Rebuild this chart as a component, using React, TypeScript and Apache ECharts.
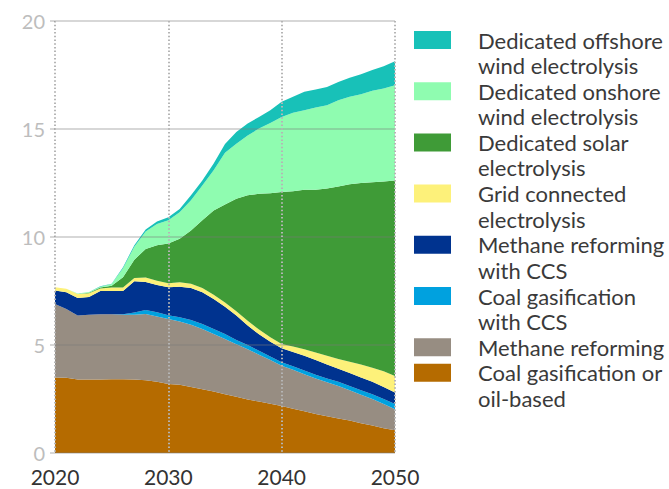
import React, { useEffect, useRef } from "react";
import * as echarts from "echarts";

const years = ["2020", "2021", "2022", "2023", "2024", "2025", "2026", "2027", "2028", "2029", "2030", "2031", "2032", "2033", "2034", "2035", "2036", "2037", "2038", "2039", "2040", "2041", "2042", "2043", "2044", "2045", "2046", "2047", "2048", "2049", "2050"];

const coalOil = [3.5, 3.48, 3.4, 3.4, 3.4, 3.42, 3.42, 3.4, 3.37, 3.3, 3.2, 3.16, 3.06, 2.95, 2.85, 2.72, 2.6, 2.48, 2.38, 2.28, 2.18, 2.05, 1.93, 1.8, 1.7, 1.6, 1.5, 1.38, 1.27, 1.15, 1.05];
const methane = [3.4, 3.19, 2.96, 3.0, 3.02, 3.0, 2.98, 3.0, 3.06, 3.02, 3.0, 2.93, 2.88, 2.79, 2.66, 2.56, 2.44, 2.32, 2.17, 2.02, 1.86, 1.8, 1.72, 1.65, 1.57, 1.5, 1.4, 1.32, 1.23, 1.12, 0.98];
const coalCcs = [0, 0, 0, 0, 0, 0, 0.02, 0.1, 0.19, 0.2, 0.18, 0.19, 0.22, 0.23, 0.23, 0.23, 0.19, 0.2, 0.18, 0.17, 0.16, 0.17, 0.17, 0.17, 0.18, 0.2, 0.2, 0.2, 0.22, 0.23, 0.24];
const methaneCcs = [0.62, 0.77, 0.82, 0.82, 1.08, 1.08, 1.08, 1.45, 1.3, 1.26, 1.29, 1.42, 1.48, 1.47, 1.39, 1.26, 1.13, 0.9, 0.77, 0.68, 0.65, 0.66, 0.68, 0.68, 0.65, 0.6, 0.6, 0.6, 0.58, 0.55, 0.53];
const gridConnected = [0.15, 0.16, 0.18, 0.18, 0.12, 0.16, 0.16, 0.15, 0.2, 0.2, 0.19, 0.2, 0.19, 0.2, 0.2, 0.2, 0.2, 0.22, 0.22, 0.21, 0.2, 0.25, 0.3, 0.35, 0.4, 0.45, 0.52, 0.6, 0.65, 0.73, 0.77];
const solar = [0, 0, 0, 0.02, 0.04, 0.08, 0.48, 0.85, 1.33, 1.64, 1.84, 2.02, 2.47, 3.13, 3.9, 4.53, 5.21, 5.81, 6.28, 6.67, 7.03, 7.19, 7.39, 7.54, 7.74, 7.99, 8.22, 8.4, 8.59, 8.79, 9.05];
const onshore = [0, 0, 0.02, 0.03, 0.04, 0.08, 0.41, 0.6, 0.8, 0.98, 1.07, 1.23, 1.4, 1.62, 1.86, 2.4, 2.55, 2.77, 3.02, 3.25, 3.48, 3.63, 3.68, 3.81, 3.86, 3.99, 4.05, 4.11, 4.23, 4.3, 4.41];
const offshore = [0, 0, 0, 0, 0.02, 0.02, 0.05, 0.07, 0.1, 0.12, 0.15, 0.15, 0.23, 0.23, 0.31, 0.4, 0.54, 0.55, 0.54, 0.59, 0.7, 0.74, 0.85, 0.83, 0.85, 0.85, 0.88, 0.93, 0.96, 1.04, 1.11];

// bottom to top
const seriesNames = [
  "Coal gasification or oil-based",
  "Methane reforming",
  "Coal gasification with CCS",
  "Methane reforming with CCS",
  "Grid connected electrolysis",
  "Dedicated solar electrolysis",
  "Dedicated onshore wind electrolysis",
  "Dedicated offshore wind electrolysis",
];
const seriesValues = [coalOil, methane, coalCcs, methaneCcs, gridConnected, solar, onshore, offshore];
const seriesColors = ["#b56b00", "#978d82", "#00a1df", "#00338f", "#fdf17a", "#3f9b37", "#8ffcb0", "#18c1b8"];

// legend (top to bottom) with line breaks as in the reference
const legendLabels = [
  "Dedicated offshore\nwind electrolysis",
  "Dedicated onshore\nwind electrolysis",
  "Dedicated solar\nelectrolysis",
  "Grid connected\nelectrolysis",
  "Methane reforming\nwith CCS",
  "Coal gasification\nwith CCS",
  "Methane reforming",
  "Coal gasification or\noil-based",
];

const FONT = "Lato, 'Noto Sans', sans-serif";

export default function App() {
  const ref = useRef<HTMLDivElement>(null);

  useEffect(() => {
    if (!ref.current) return;
    const chart = echarts.init(ref.current, undefined, { renderer: "svg" });

    const lineH = 25.6;
    const firstCenter = 40;
    const graphics: any[] = [];
    let line = 0;
    legendLabels.forEach((label, i) => {
      const colorIdx = seriesColors.length - 1 - i;
      const cy = firstCenter + line * lineH;
      graphics.push({
        type: "rect",
        shape: { x: 414, y: cy - 9, width: 37, height: 18 },
        style: { fill: seriesColors[colorIdx] },
      });
      graphics.push({
        type: "text",
        x: 478,
        y: cy - lineH / 2,
        style: {
          text: label,
          font: `22px ${FONT}`,
          fill: "#3a3a3a",
          lineHeight: lineH,
          verticalAlign: "top",
          align: "left",
        },
      });
      line += label.split("\n").length;
    });

    const every10 = (idx: number) => idx % 10 === 0;

    chart.setOption({
      animation: false,
      textStyle: { fontFamily: FONT },
      grid: { left: 55, right: 274, top: 21, bottom: 36, containLabel: false },
      xAxis: {
        type: "category",
        data: years,
        boundaryGap: false,
        z: 5,
        axisLine: { show: false },
        axisTick: { show: false },
        axisLabel: { color: "#333", fontSize: 21, margin: 13, fontFamily: FONT, interval: every10, showMinLabel: true, showMaxLabel: true },
        splitLine: { show: true, interval: every10, lineStyle: { color: "#b5b5b5", width: 2, type: [1.5, 2.2] } },
      },
      yAxis: {
        type: "value",
        min: 0,
        max: 20,
        interval: 5,
        z: 5,
        axisLine: { show: false },
        axisTick: { show: true, length: 5, lineStyle: { color: "rgba(120,120,120,0.4)", width: 1.5 } },
        axisLabel: { color: "#bdbdbd", fontSize: 20, margin: 10, fontFamily: FONT },
        splitLine: { show: true, lineStyle: { color: "rgba(120,120,120,0.4)", width: 1.5 } },
      },
      series: seriesNames.map((name, i) => ({
        name,
        type: "line",
        stack: "total",
        symbol: "none",
        showSymbol: false,
        lineStyle: { width: 0 },
        areaStyle: { color: seriesColors[i], opacity: 1 },
        itemStyle: { color: seriesColors[i] },
        data: seriesValues[i],
        z: 2,
      })),
      graphic: graphics,
    });

    return () => chart.dispose();
  }, []);

  return (
    <div
      ref={ref}
      style={{ position: "absolute", left: 0, top: 0, width: 669, height: 489 }}
    />
  );
}
